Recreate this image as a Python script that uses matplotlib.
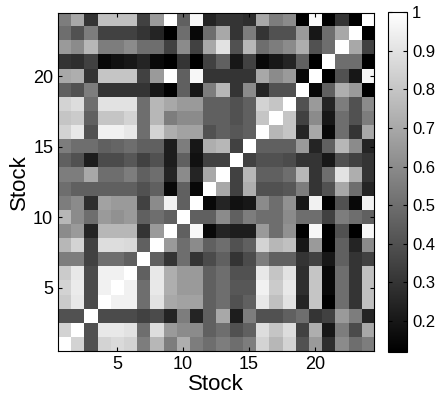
import numpy as np
import matplotlib
matplotlib.use('Agg')
import matplotlib.pyplot as plt

plt.rcParams['font.family'] = ['Liberation Sans', 'DejaVu Sans']

# корреляционная матрица, строки снизу вверх (акция 1 ... акция 24)
row01 = [1.0, 0.85, 0.4, 0.85, 0.87, 0.85, 0.55, 0.75, 0.55, 0.72, 0.55, 0.5, 0.55, 0.5, 0.55, 0.85, 0.75, 0.85, 0.4, 0.65, 0.28, 0.6, 0.5, 0.55]
row02 = [0.85, 1.0, 0.4, 0.92, 0.92, 0.9, 0.5, 0.88, 0.65, 0.6, 0.6, 0.45, 0.5, 0.4, 0.45, 0.88, 0.8, 0.88, 0.35, 0.72, 0.2, 0.55, 0.38, 0.7]
row03 = [0.4, 0.4, 1.0, 0.38, 0.38, 0.38, 0.35, 0.38, 0.25, 0.55, 0.25, 0.45, 0.7, 0.22, 0.55, 0.4, 0.4, 0.45, 0.5, 0.3, 0.35, 0.65, 0.55, 0.25]
row04 = [0.82, 0.92, 0.38, 1.0, 0.95, 0.95, 0.5, 0.9, 0.7, 0.68, 0.68, 0.45, 0.5, 0.4, 0.45, 0.92, 0.78, 0.9, 0.25, 0.8, 0.12, 0.5, 0.3, 0.78]
row05 = [0.85, 0.93, 0.38, 0.95, 1.0, 0.95, 0.5, 0.92, 0.72, 0.65, 0.65, 0.45, 0.5, 0.42, 0.42, 0.95, 0.82, 0.92, 0.28, 0.8, 0.15, 0.5, 0.3, 0.78]
row06 = [0.82, 0.92, 0.38, 0.95, 0.95, 1.0, 0.45, 0.92, 0.72, 0.65, 0.65, 0.45, 0.5, 0.4, 0.4, 0.92, 0.8, 0.9, 0.28, 0.8, 0.15, 0.5, 0.3, 0.78]
row07 = [0.55, 0.55, 0.35, 0.5, 0.5, 0.45, 1.0, 0.45, 0.3, 0.5, 0.3, 0.38, 0.45, 0.3, 0.38, 0.55, 0.45, 0.45, 0.3, 0.35, 0.2, 0.45, 0.3, 0.35]
row08 = [0.75, 0.85, 0.35, 0.88, 0.88, 0.87, 0.45, 1.0, 0.65, 0.5, 0.6, 0.45, 0.5, 0.4, 0.45, 0.85, 0.75, 0.78, 0.2, 0.65, 0.1, 0.45, 0.25, 0.6]
row09 = [0.6, 0.65, 0.25, 0.75, 0.75, 0.75, 0.3, 0.65, 1.0, 0.45, 0.97, 0.15, 0.25, 0.22, 0.22, 0.65, 0.5, 0.62, 0.12, 0.97, 0.12, 0.4, 0.12, 0.97]
row10 = [0.75, 0.6, 0.5, 0.65, 0.62, 0.65, 0.45, 0.5, 0.45, 1.0, 0.45, 0.45, 0.6, 0.45, 0.55, 0.5, 0.5, 0.6, 0.5, 0.5, 0.35, 0.55, 0.5, 0.45]
row11 = [0.55, 0.6, 0.28, 0.68, 0.65, 0.65, 0.35, 0.6, 0.95, 0.45, 1.0, 0.15, 0.25, 0.18, 0.2, 0.6, 0.5, 0.62, 0.2, 0.95, 0.12, 0.4, 0.15, 0.95]
row12 = [0.5, 0.45, 0.45, 0.45, 0.45, 0.45, 0.4, 0.45, 0.15, 0.45, 0.15, 1.0, 0.7, 0.35, 0.72, 0.4, 0.4, 0.42, 0.55, 0.3, 0.4, 0.7, 0.5, 0.25]
row13 = [0.55, 0.55, 0.7, 0.5, 0.5, 0.55, 0.45, 0.5, 0.25, 0.6, 0.25, 0.7, 1.0, 0.35, 0.75, 0.45, 0.45, 0.5, 0.75, 0.3, 0.5, 0.9, 0.72, 0.3]
row14 = [0.45, 0.4, 0.22, 0.38, 0.38, 0.42, 0.35, 0.4, 0.22, 0.45, 0.18, 0.35, 0.35, 1.0, 0.35, 0.4, 0.4, 0.38, 0.3, 0.3, 0.2, 0.4, 0.35, 0.3]
row15 = [0.55, 0.5, 0.5, 0.45, 0.47, 0.5, 0.45, 0.45, 0.22, 0.55, 0.2, 0.72, 0.75, 0.35, 1.0, 0.45, 0.45, 0.45, 0.65, 0.25, 0.45, 0.75, 0.6, 0.25]
row16 = [0.85, 0.92, 0.4, 0.95, 0.95, 0.92, 0.5, 0.85, 0.72, 0.68, 0.68, 0.4, 0.45, 0.42, 0.45, 1.0, 0.75, 0.8, 0.25, 0.7, 0.15, 0.5, 0.3, 0.7]
row17 = [0.8, 0.82, 0.45, 0.8, 0.8, 0.85, 0.5, 0.75, 0.55, 0.6, 0.6, 0.45, 0.45, 0.4, 0.45, 0.8, 1.0, 0.8, 0.35, 0.6, 0.2, 0.5, 0.4, 0.55]
row18 = [0.85, 0.88, 0.5, 0.9, 0.9, 0.9, 0.5, 0.75, 0.7, 0.65, 0.65, 0.45, 0.45, 0.4, 0.45, 0.85, 0.8, 1.0, 0.4, 0.65, 0.25, 0.55, 0.4, 0.6]
row19 = [0.45, 0.4, 0.55, 0.3, 0.3, 0.3, 0.3, 0.2, 0.12, 0.45, 0.2, 0.55, 0.75, 0.3, 0.6, 0.25, 0.4, 0.4, 1.0, 0.15, 0.45, 0.72, 0.65, 0.12]
row20 = [0.7, 0.72, 0.3, 0.8, 0.8, 0.8, 0.35, 0.65, 1.0, 0.45, 0.97, 0.3, 0.3, 0.3, 0.3, 0.7, 0.6, 0.65, 0.15, 1.0, 0.12, 0.4, 0.2, 0.97]
row21 = [0.3, 0.28, 0.35, 0.15, 0.18, 0.2, 0.25, 0.15, 0.12, 0.3, 0.12, 0.35, 0.45, 0.2, 0.35, 0.15, 0.2, 0.25, 0.45, 0.12, 1.0, 0.5, 0.5, 0.12]
row22 = [0.65, 0.6, 0.75, 0.55, 0.55, 0.6, 0.5, 0.5, 0.35, 0.6, 0.35, 0.7, 0.9, 0.4, 0.75, 0.5, 0.55, 0.6, 0.72, 0.4, 0.5, 1.0, 0.7, 0.35]
row23 = [0.5, 0.4, 0.55, 0.35, 0.35, 0.35, 0.3, 0.25, 0.12, 0.5, 0.15, 0.5, 0.7, 0.3, 0.55, 0.3, 0.4, 0.4, 0.65, 0.2, 0.5, 0.7, 1.0, 0.12]
row24 = [0.55, 0.7, 0.3, 0.78, 0.78, 0.78, 0.35, 0.65, 1.0, 0.45, 0.97, 0.25, 0.3, 0.3, 0.28, 0.7, 0.55, 0.6, 0.12, 0.98, 0.12, 0.3, 0.12, 1.0]

corr = np.array([row01, row02, row03, row04, row05, row06, row07, row08,
                 row09, row10, row11, row12, row13, row14, row15, row16,
                 row17, row18, row19, row20, row21, row22, row23, row24])
n = corr.shape[0]

ticks = [5, 10, 15, 20]
cbar_ticks = [0.2, 0.3, 0.4, 0.5, 0.6, 0.7, 0.8, 0.9, 1]
cbar_labels = ['0.2', '0.3', '0.4', '0.5', '0.6', '0.7', '0.8', '0.9', '1']

fig = plt.figure(figsize=(4.38, 3.97), dpi=100)
ax = fig.add_axes([0.1324, 0.1159, 0.7215, 0.8514])
cax = fig.add_axes([0.886, 0.1134, 0.0434, 0.8564])

im = ax.imshow(corr, cmap='gray', vmin=0.12, vmax=1.0, origin='lower',
               aspect='auto', interpolation='nearest',
               extent=[0.5, n + 0.5, 0.5, n + 0.5])

ax.set_xticks(ticks)
ax.set_yticks(ticks)
ax.tick_params(direction='in', top=True, right=True, labelsize=13, length=3)
ax.set_xlabel('Stock', fontsize=16, labelpad=1)
ax.set_ylabel('Stock', fontsize=16, labelpad=2)

cb = fig.colorbar(im, cax=cax)
cb.set_ticks(cbar_ticks)
cb.set_ticklabels(cbar_labels)
cb.outline.set_linewidth(0.8)
cax.tick_params(direction='in', left=True, right=True, labelsize=12, length=3)

fig.savefig('out.png', dpi=100)
